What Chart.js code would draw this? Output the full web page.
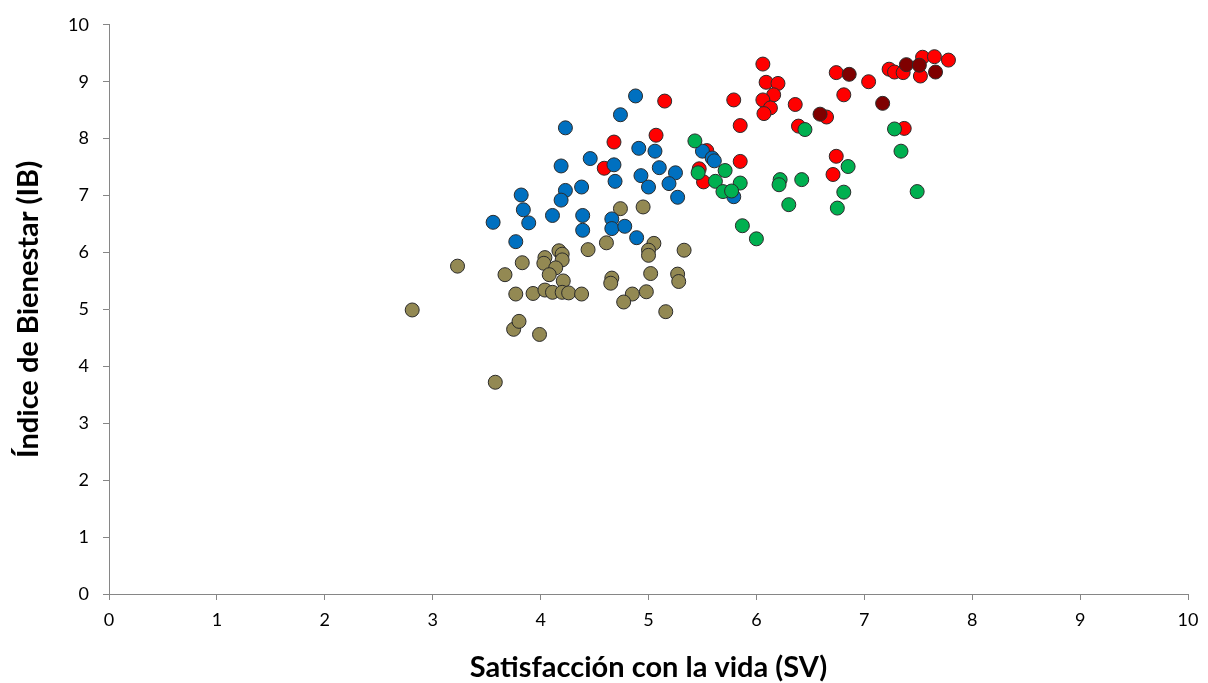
<!DOCTYPE html>
<html>
<head>
<meta charset="utf-8">
<script src="https://cdn.jsdelivr.net/npm/chart.js@4/dist/chart.umd.min.js"></script>
<style>
  html, body { margin: 0; padding: 0; background: #fff; }
  #wrap { width: 1208px; height: 683px; }
</style>
</head>
<body>
<div id="wrap"><canvas id="chart" width="1208" height="683"></canvas></div>
<script>
// values (SV on x, IB on y)
const tanSV = [2.81, 3.23, 3.58, 3.67, 3.75, 3.80, 3.77, 3.83, 3.93, 3.99, 4.04, 4.03, 4.17, 4.20, 4.20, 4.14, 4.08, 4.21, 4.04, 4.11,
               4.20, 4.26, 4.38, 4.44, 4.61, 5.05, 5.00, 5.00, 5.33, 4.66, 4.65, 5.02, 5.27, 5.28, 4.85, 4.98, 4.77, 5.16, 4.74, 4.95];
const tanIB = [4.99, 5.76, 3.72, 5.61, 4.65, 4.79, 5.27, 5.82, 5.28, 4.56, 5.91, 5.81, 6.03, 5.97, 5.87, 5.73, 5.61, 5.50, 5.34, 5.30,
               5.30, 5.29, 5.27, 6.05, 6.17, 6.16, 6.04, 5.95, 6.04, 5.55, 5.46, 5.63, 5.62, 5.49, 5.27, 5.31, 5.13, 4.96, 6.77, 6.80];

const blueSV = [4.23, 4.19, 4.38, 4.23, 4.19, 3.82, 3.84, 4.11, 4.39, 3.56, 3.89, 3.77, 4.39, 4.46, 4.88, 4.74, 4.91, 5.06, 4.68, 5.10,
                5.25, 4.93, 4.69, 5.19, 5.00, 5.27, 4.66, 4.66, 4.78, 4.89, 5.50, 5.59, 5.61, 5.79];
const blueIB = [8.19, 7.52, 7.15, 7.09, 6.92, 7.01, 6.75, 6.65, 6.65, 6.53, 6.52, 6.19, 6.39, 7.65, 8.75, 8.42, 7.83, 7.78, 7.54, 7.49,
                7.40, 7.35, 7.25, 7.21, 7.15, 6.97, 6.59, 6.42, 6.46, 6.26, 7.78, 7.66, 7.61, 6.98];

const redSV = [6.06, 6.09, 6.20, 6.16, 6.06, 6.13, 6.07, 5.79, 5.15, 5.85, 5.07, 4.68, 4.59, 5.85, 5.54, 5.47, 5.51, 6.74, 7.04, 6.81,
               6.36, 6.65, 6.39, 7.37, 6.74, 6.71, 7.23, 7.28, 7.36, 7.54, 7.65, 7.78, 7.52];
const redIB = [9.31, 8.99, 8.97, 8.77, 8.68, 8.54, 8.44, 8.68, 8.66, 8.23, 8.06, 7.94, 7.48, 7.60, 7.79, 7.47, 7.24, 9.16, 9.00, 8.77,
               8.60, 8.38, 8.22, 8.18, 7.69, 7.37, 9.22, 9.17, 9.16, 9.43, 9.44, 9.38, 9.10];

const greenSV = [5.43, 5.46, 5.71, 5.85, 5.62, 5.69, 5.77, 5.87, 6.00, 6.45, 7.28, 7.34, 6.85, 6.22, 6.21, 6.42, 6.81, 7.49, 6.30, 6.75];
const greenIB = [7.96, 7.40, 7.44, 7.22, 7.25, 7.07, 7.08, 6.47, 6.24, 8.16, 8.17, 7.78, 7.51, 7.28, 7.19, 7.28, 7.06, 7.07, 6.84, 6.78];

const darkSV = [6.86, 6.59, 7.17, 7.39, 7.51, 7.66];
const darkIB = [9.13, 8.43, 8.62, 9.30, 9.29, 9.17];

const axisTicks = [0, 1, 2, 3, 4, 5, 6, 7, 8, 9, 10];

const toPoints = (xs, ys) => xs.map((x, i) => ({ x: x, y: ys[i] }));

const FONT = "Lato, 'Open Sans', sans-serif";
const AXIS_COLOR = "#868686";

function series(label, xs, ys, color, order) {
    return {
        label: label,
        data: toPoints(xs, ys),
        backgroundColor: color,
        borderColor: "#2b2b2b",
        borderWidth: 1,
        pointRadius: 7,
        pointHoverRadius: 7,
        order: order
    };
}

// lower order is drawn on top
new Chart(document.getElementById("chart"), {
    type: 'scatter',
    data: {
        datasets: [
            series("dark", darkSV, darkIB, "#7f0000", 0),
            series("green", greenSV, greenIB, "#00b050", 1),
            series("blue", blueSV, blueIB, "#0070c0", 2),
            series("red", redSV, redIB, "#ff0000", 3),
            series("tan", tanSV, tanIB, "#938953", 4)
        ]
    },
    options: {
        responsive: false,
        animation: false,
        devicePixelRatio: 1,
        layout: {
            padding: { top: 22, right: 20, bottom: 0, left: 0 }
        },
        plugins: {
            legend: { display: false },
            tooltip: { enabled: false }
        },
        scales: {
            x: {
                type: 'linear',
                min: 0,
                max: 10,
                afterBuildTicks: (scale) => { scale.ticks = axisTicks.map(v => ({ value: v })); },
                afterFit: (scale) => { scale.height = 89; },
                grid: { drawOnChartArea: false, drawTicks: true, tickLength: 6, color: AXIS_COLOR },
                border: { color: AXIS_COLOR, width: 1 },
                ticks: {
                    color: "#000",
                    padding: 9,
                    maxRotation: 0,
                    font: { family: FONT, size: 18 }
                },
                title: {
                    display: true,
                    text: "Satisfacción con la vida (SV)",
                    color: "#000",
                    padding: { top: 0, bottom: 1 },
                    font: { family: FONT, size: 29, weight: 'bold', lineHeight: 1 }
                }
            },
            y: {
                type: 'linear',
                min: 0,
                max: 10,
                afterBuildTicks: (scale) => { scale.ticks = axisTicks.map(v => ({ value: v })); },
                afterFit: (scale) => { scale.width = 109; },
                grid: { drawOnChartArea: false, drawTicks: true, tickLength: 6, color: AXIS_COLOR },
                border: { color: AXIS_COLOR, width: 1 },
                ticks: {
                    color: "#000",
                    padding: 14,
                    font: { family: FONT, size: 18 }
                },
                title: {
                    display: true,
                    text: "Índice de Bienestar (IB)",
                    color: "#000",
                    padding: { top: 14, bottom: 0 },
                    font: { family: FONT, size: 29, weight: 'bold', lineHeight: 1 }
                }
            }
        }
    }
});
</script>
</body>
</html>
